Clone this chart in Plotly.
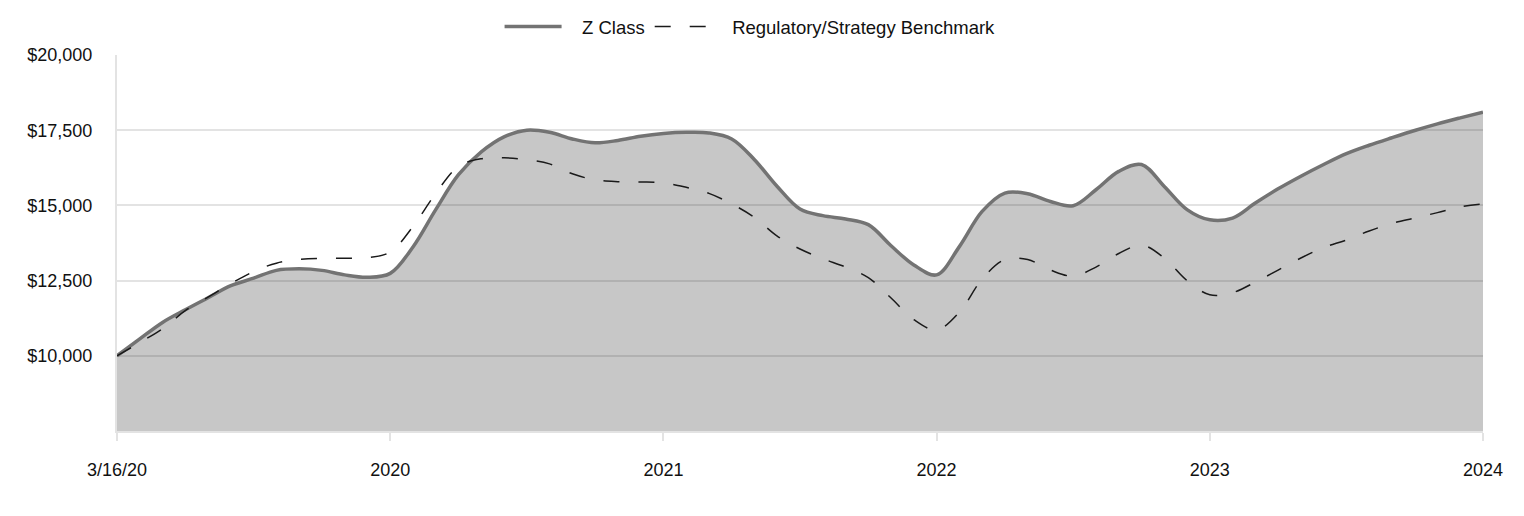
import plotly.graph_objects as go

# monthly points, fiscal year ticks every 12
tick_labels = ['3/16/20', '2020', '2021', '2022', '2023', '2024']
months = list(range(61))

z_class = [10000, 10560, 11110, 11530, 11930, 12330, 12580, 12840, 12890, 12840,
           12690, 12610, 12740, 13620, 14860, 16020, 16780, 17280, 17500, 17430,
           17210, 17080, 17160, 17300, 17390, 17430, 17410, 17210, 16520, 15630,
           14880, 14660, 14550, 14360, 13660, 13020, 12690, 13630, 14800, 15410,
           15390, 15130, 14990, 15520, 16130, 16360, 15630, 14860, 14520, 14580,
           15080, 15550, 15970, 16360, 16720, 17000, 17250, 17490, 17710, 17910,
           18100]

benchmark = [10000, 10440, 10900, 11500, 11950, 12400, 12800, 13080, 13200, 13240,
             13240, 13260, 13450, 14300, 15400, 16300, 16550, 16580, 16520, 16380,
             16050, 15850, 15790, 15780, 15750, 15600, 15400, 15050, 14600, 13980,
             13550, 13230, 12950, 12600, 11920, 11200, 10860, 11450, 12550, 13200,
             13200, 12850, 12650, 12950, 13400, 13680, 13250, 12500, 12030, 12100,
             12450, 12850, 13250, 13600, 13850, 14150, 14400, 14580, 14760, 14950,
             15050]

fig = go.Figure()
# shaded area under Z Class (kept out of the legend so the key shows a plain line)
fig.add_trace(go.Scatter(x=months, y=z_class, mode='lines', showlegend=False, hoverinfo='skip',
                         line=dict(width=0, shape='spline', smoothing=1),
                         fill='tozeroy', fillcolor='rgba(0,0,0,0.22)'))
fig.add_trace(go.Scatter(x=months, y=z_class, name='\u00a0\u00a0\u00a0Z Class', mode='lines',
                         line=dict(color='#737373', width=3.5, shape='spline', smoothing=1)))
fig.add_trace(go.Scatter(x=months, y=benchmark, name='\u00a0\u00a0\u00a0Regulatory/Strategy Benchmark', mode='lines',
                         line=dict(color='#1a1a1a', width=1.5, dash='16px,19px', shape='spline', smoothing=1)))

# page body adds an 8px offset, so the figure is 8px smaller than the window
fig.update_layout(
    width=1516, height=508,
    margin=dict(l=109, r=41, t=47, b=85, autoexpand=False),
    plot_bgcolor='white', paper_bgcolor='white',
    font=dict(family='Liberation Sans, Arial', size=18, color='#111111'),
    showlegend=True,
    legend=dict(orientation='h', xref='container', x=0.4895, xanchor='center',
                yref='container', y=0.9626, yanchor='middle',
                font=dict(size=18.5), itemwidth=57, traceorder='normal'),
)
fig.update_xaxes(range=[0, 60], tickvals=[0, 12, 24, 36, 48, 60], ticktext=tick_labels,
                 showgrid=False, showline=True, linecolor='#e3e3e3', linewidth=2,
                 ticks='outside', ticklen=8, tickcolor='#e3e3e3', tickwidth=2,
                 ticklabelstandoff=13, zeroline=False)
fig.update_yaxes(range=[7500, 20000], tickvals=[10000, 12500, 15000, 17500, 20000],
                 tickformat='$,.0f', showgrid=True, gridcolor='#e3e3e3', gridwidth=2,
                 showline=True, linecolor='#e3e3e3', linewidth=2,
                 ticks='', ticklabelstandoff=19, zeroline=False)

fig.write_html("out.html")
